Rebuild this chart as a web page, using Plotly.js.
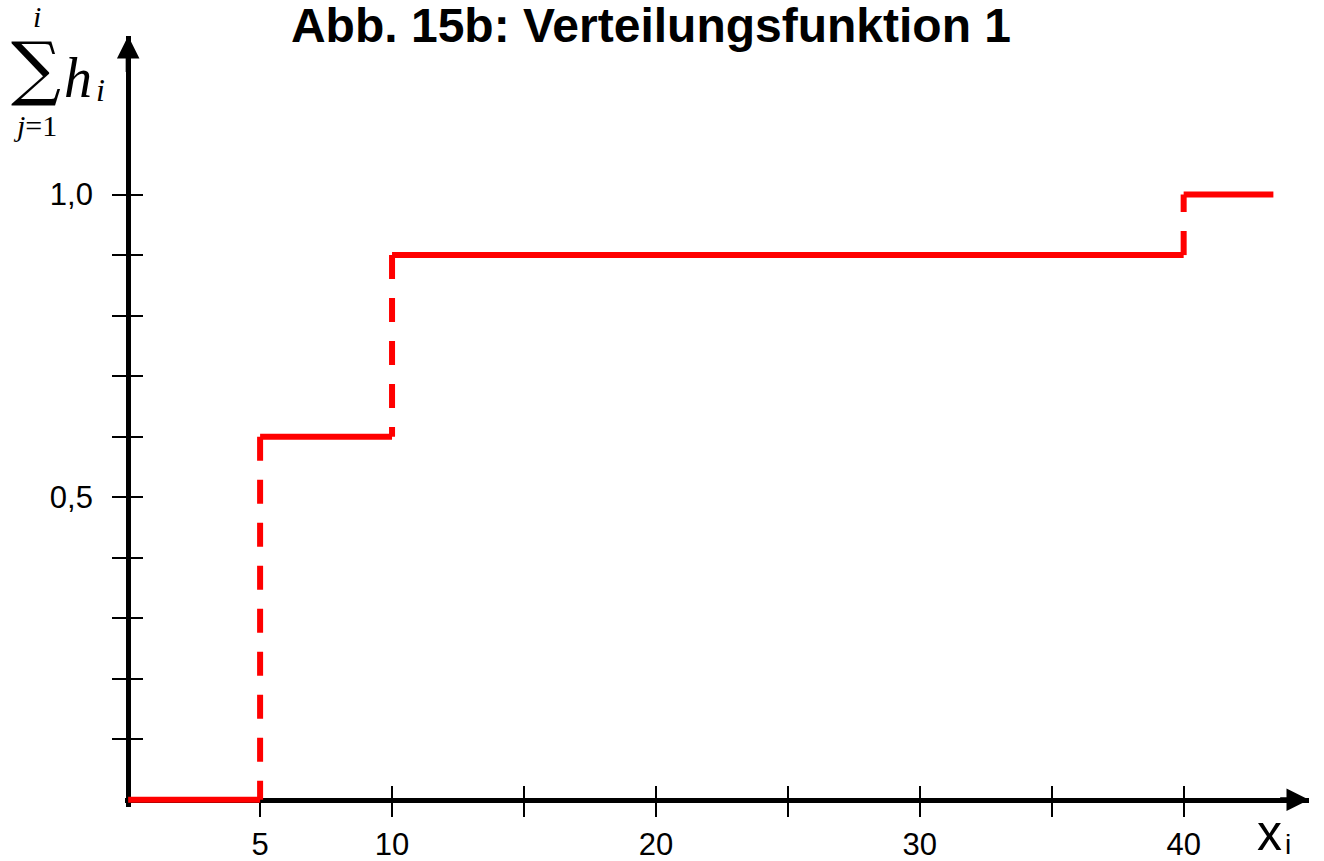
<!DOCTYPE html>
<html>
<head>
<meta charset="utf-8">
<script src="https://cdn.plot.ly/plotly-3.0.1.min.js"></script>
<style>html,body{margin:0;padding:0;background:#fff;}#chart{width:1324px;height:861px;}</style>
</head>
<body>
<div id="chart"></div>
<script>
// ---- data ----
const stepStart = [0, 5, 10, 40];       // x where each level begins
const stepEnd   = [5, 10, 40, 43.4];    // x where each level ends
const cumFreq   = [0, 0.6, 0.9, 1.0];   // cumulative relative frequency
const xTickVals = [5, 10, 15, 20, 25, 30, 35, 40];
const xTickText = ['5', '10', '', '20', '', '30', '', '40'];
const yTickVals = [0.1, 0.2, 0.3, 0.4, 0.5, 0.6, 0.7, 0.8, 0.9, 1.0];
const yTickText = ['', '', '', '', '0,5', '', '', '', '', '1,0'];

// ---- geometry ----
const W = 1324, H = 861;
const x0px = 128, xScale = 26.4;      // px of x=0, px per unit
const y0px = 800, yScale = 605;       // px of y=0, px per unit
const xmin = -0.12, xmax = 44.75;
const ymin = -0.012, ymax = 1.262;
const L = x0px + xmin * xScale;
const R = W - (x0px + xmax * xScale);
const B = H - (y0px - ymin * yScale);
const T = y0px - ymax * yScale;
const plotW = W - L - R, plotH = H - T - B;
const px = v => (v - L) / plotW;
const py = v => (H - B - v) / plotH;

// horizontal segments
const hx = [], hy = [];
for (let k = 0; k < stepStart.length; k++) {
  hx.push(stepStart[k], stepEnd[k], null);
  hy.push(cumFreq[k], cumFreq[k], null);
}
// vertical jumps (dashed)
const vx = [], vy = [];
for (let k = 0; k < stepStart.length - 1; k++) {
  const xj = stepEnd[k];
  if (k < 2) { vx.push(xj, xj, null); vy.push(cumFreq[k + 1], cumFreq[k], null); }
  else { vx.push(xj, xj, null); vy.push(cumFreq[k], cumFreq[k + 1], null); }
}

const red = '#ff0000';
const traces = [
  { x: hx, y: hy, mode: 'lines', line: { color: red, width: 6 }, hoverinfo: 'skip', showlegend: false },
  { x: vx, y: vy, xaxis: 'x2', yaxis: 'y2', mode: 'lines',
    line: { color: red, width: 6, dash: '24px,19px' }, hoverinfo: 'skip', showlegend: false }
];

const posX = (0 - ymin) / (ymax - ymin);   // where x axis sits (y=0)
const posY = (0 - xmin) / (xmax - xmin);   // where y axis sits (x=0)
const sans = 'Liberation Sans, Arial, sans-serif';
const tickFont = { family: sans, size: 31, color: '#000' };
const serif = 'Liberation Serif, Times New Roman, serif';

const common = { showgrid: false, zeroline: false, fixedrange: true, tickcolor: '#000', tickwidth: 2, ticklen: 14, layer: 'below traces' };

const layout = {
  width: W, height: H,
  margin: { l: L, r: R, t: T, b: B, pad: 0 },
  paper_bgcolor: '#fff', plot_bgcolor: '#fff',
  showlegend: false,
  title: { text: 'Abb. 15b: Verteilungsfunktion 1', font: { family: sans, size: 48, weight: 'bold', color: '#000' },
           xref: 'container', yref: 'container', x: 651 / W, xanchor: 'center', y: 1 - 25 / H, yanchor: 'middle' },
  xaxis: Object.assign({}, common, { range: [xmin, xmax], anchor: 'free', position: posX,
    showline: true, linewidth: 5, linecolor: '#000', ticks: 'outside',
    tickmode: 'array', tickvals: xTickVals, ticktext: xTickText, tickfont: tickFont, ticklabelstandoff: 1 }),
  xaxis2: Object.assign({}, common, { range: [xmin, xmax], overlaying: 'x', anchor: 'free', position: posX,
    showline: false, ticks: 'inside', tickmode: 'array', tickvals: xTickVals, showticklabels: false }),
  yaxis: Object.assign({}, common, { range: [ymin, ymax], anchor: 'free', position: posY,
    showline: true, linewidth: 5, linecolor: '#000', ticks: 'outside',
    tickmode: 'array', tickvals: yTickVals, ticktext: yTickText, tickfont: tickFont, ticklabelstandoff: 13 }),
  yaxis2: Object.assign({}, common, { range: [ymin, ymax], overlaying: 'y', anchor: 'free', position: posY,
    showline: false, ticks: 'inside', tickmode: 'array', tickvals: yTickVals, showticklabels: false }),
  annotations: [
    { xref: 'x', yref: 'y', axref: 'x', ayref: 'y', x: xmax, y: 0, ax: 43.6, ay: 0, text: '',
      showarrow: true, arrowhead: 2, arrowsize: 0.9, arrowwidth: 5, arrowcolor: '#000', standoff: 0 },
    { xref: 'x', yref: 'y', axref: 'x', ayref: 'y', x: 0, y: ymax, ax: 0, ay: 1.2, text: '',
      showarrow: true, arrowhead: 2, arrowsize: 0.9, arrowwidth: 5, arrowcolor: '#000', standoff: 0 },
    // y-axis label: sum_{j=1}^{i} h_i
    { xref: 'paper', yref: 'paper', x: px(36), y: py(68), text: '∑', showarrow: false,
      font: { family: 'DejaVu Serif, serif', size: 70, color: '#000' }, xanchor: 'center', yanchor: 'middle' },
    { xref: 'paper', yref: 'paper', x: px(37), y: py(17), text: '<i>i</i>', showarrow: false,
      font: { family: serif, size: 30, color: '#000' }, xanchor: 'center', yanchor: 'middle' },
    { xref: 'paper', yref: 'paper', x: px(35), y: py(126), text: '<i>j</i>=1', showarrow: false,
      font: { family: serif, size: 30, color: '#000' }, xanchor: 'center', yanchor: 'middle' },
    { xref: 'paper', yref: 'paper', x: px(78), y: py(78), text: '<i>h</i>', showarrow: false,
      font: { family: serif, size: 56, color: '#000' }, xanchor: 'center', yanchor: 'middle' },
    { xref: 'paper', yref: 'paper', x: px(100), y: py(90), text: '<i>i</i>', showarrow: false,
      font: { family: serif, size: 32, color: '#000' }, xanchor: 'center', yanchor: 'middle' },
    // x-axis label
    { xref: 'paper', yref: 'paper', x: px(1270), y: py(833), text: 'x', showarrow: false,
      font: { family: sans, size: 50, color: '#000' }, xanchor: 'center', yanchor: 'middle' },
    { xref: 'paper', yref: 'paper', x: px(1288), y: py(845), text: 'i', showarrow: false,
      font: { family: sans, size: 28, color: '#000' }, xanchor: 'center', yanchor: 'middle' }
  ]
};

Plotly.newPlot('chart', traces, layout, { displayModeBar: false, staticPlot: true });
</script>
</body>
</html>
